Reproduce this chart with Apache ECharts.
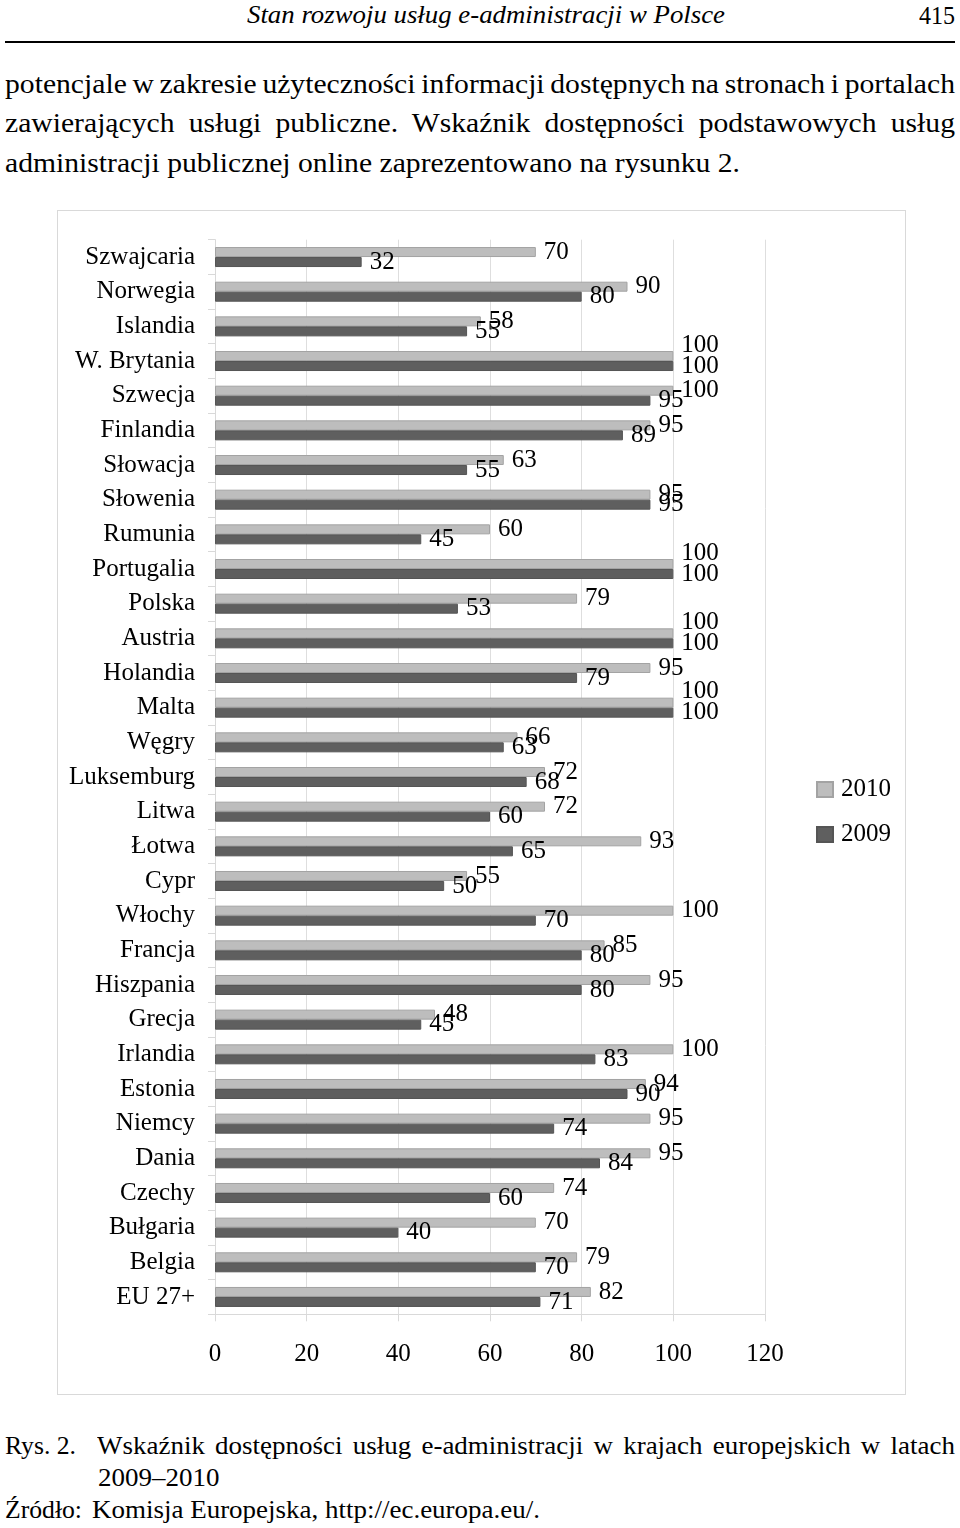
<!DOCTYPE html>
<html>
<head>
<meta charset="utf-8">
<script src="https://cdn.jsdelivr.net/npm/echarts@6/dist/echarts.min.js"></script>
<style>
  html, body { margin:0; padding:0; background:#fff; }
  body { width:960px; height:1528px; position:relative; overflow:hidden; font-family:"Liberation Serif","Times New Roman",serif; color:#000; }
  .t { position:absolute; white-space:nowrap; line-height:1; transform-origin:0 50%; }
  #frame { position:absolute; left:57px; top:210px; width:849px; height:1185px; border:1px solid #d9d9d9; box-sizing:border-box; }
  #chart { position:absolute; left:58px; top:211px; width:847px; height:1183px; }
</style>
</head>
<body>
<div class="t" data-w="478" style="left:247px;top:2px;font-style:italic;font-size:26px;">Stan rozwoju usług e-administracji w Polsce</div>
<div class="t" data-w="36" style="left:919px;top:3px;font-size:26px;">415</div>
<div style="position:absolute;left:5px;top:41px;width:950px;height:2px;background:#000;"></div>
<div class="t" data-g="p" data-j="950" style="left:5px;top:71px;font-size:27px;">potencjale w zakresie użyteczności informacji dostępnych na stronach i portalach</div>
<div class="t" data-g="p" data-j="950" style="left:5px;top:110px;font-size:27px;">zawierających usługi publiczne. Wskaźnik dostępności podstawowych usług</div>
<div class="t" data-g="p" data-ref="735" style="left:5px;top:150px;font-size:27px;">administracji publicznej online zaprezentowano na rysunku 2.</div>
<div id="frame"></div>
<div id="chart"></div>
<div class="t" data-w="71" style="left:5px;top:1433px;font-size:26px;">Rys. 2.</div>
<div class="t" data-g="c" data-j="858" style="left:97px;top:1433px;font-size:26px;">Wskaźnik dostępności usług e-administracji w krajach europejskich w latach</div>
<div class="t" data-g="c" style="left:98px;top:1465px;font-size:26px;">2009–2010</div>
<div class="t" data-w="77" style="left:5px;top:1497px;font-size:26px;">Źródło:</div>
<div class="t" data-g="c" data-ref="448" style="left:92px;top:1497px;font-size:26px;">Komisja Europejska, http://ec.europa.eu/.</div>
<script>
const categories = ['Szwajcaria','Norwegia','Islandia','W. Brytania','Szwecja','Finlandia','Słowacja','Słowenia','Rumunia','Portugalia','Polska','Austria','Holandia','Malta','Węgry','Luksemburg','Litwa','Łotwa','Cypr','Włochy','Francja','Hiszpania','Grecja','Irlandia','Estonia','Niemcy','Dania','Czechy','Bułgaria','Belgia','EU 27+'];
const values2010 = [70,90,58,100,100,95,63,95,60,100,79,100,95,100,66,72,72,93,55,100,85,95,48,100,94,95,95,74,70,79,82];
const values2009 = [32,80,55,100,95,89,55,95,45,100,53,100,79,100,63,68,60,65,50,70,80,80,45,83,90,74,84,60,40,70,71];
const seriesNames = ['2010','2009'];
const xTicks = {min:0, max:120, interval:20};

// page text: single-line widths fitted, groups share a horizontal scale, justified lines widen spaces
document.querySelectorAll('.t[data-w]').forEach(function(el){
  const natural = el.getBoundingClientRect().width;
  const target = parseFloat(el.getAttribute('data-w'));
  if (natural > 0) el.style.transform = 'scaleX(' + (target / natural) + ')';
});
['p','c'].forEach(function(g){
  const els = Array.from(document.querySelectorAll('.t[data-g="' + g + '"]'));
  const ref = els.find(function(e){ return e.hasAttribute('data-ref'); });
  const s = parseFloat(ref.getAttribute('data-ref')) / ref.getBoundingClientRect().width;
  els.forEach(function(el){
    if (el.hasAttribute('data-j')) {
      const nat = el.getBoundingClientRect().width;
      const spaces = (el.textContent.match(/ /g) || []).length;
      const ws = (parseFloat(el.getAttribute('data-j')) / s - nat) / spaces;
      el.style.wordSpacing = ws + 'px';
    }
    el.style.transform = 'scaleX(' + s + ')';
  });
});

const FONT = '"Liberation Serif","Times New Roman",serif';
const chart = echarts.init(document.getElementById('chart'), null, {renderer:'canvas'});
const labelStyle = {show:true, position:'right', distance:8, color:'#000', fontSize:25, fontFamily:FONT};
chart.setOption({
  animation:false,
  textStyle:{fontFamily:FONT},
  grid:{left:157, right:140, top:28.7, bottom:79.7, containLabel:false},
  legend:{
    orient:'vertical', left:758, top:566, padding:0, itemWidth:16, itemHeight:15, itemGap:20,
    icon:'rect',
    data:seriesNames,
    textStyle:{fontSize:25, lineHeight:25, color:'#000', fontFamily:FONT, padding:[0,0,0,3]}
  },
  xAxis:{
    type:'value', min:xTicks.min, max:xTicks.max, interval:xTicks.interval,
    axisLine:{show:true, lineStyle:{color:'#d9d9d9', width:1}},
    axisTick:{show:true, length:7, lineStyle:{color:'#d9d9d9'}},
    splitLine:{show:true, lineStyle:{color:'#dedede', width:1}},
    axisLabel:{margin:28, fontSize:25, color:'#000', fontFamily:FONT}
  },
  yAxis:{
    type:'category', inverse:true, data:categories,
    axisLine:{show:true, lineStyle:{color:'#d9d9d9', width:1}},
    axisTick:{show:true, length:7, lineStyle:{color:'#d9d9d9'}},
    axisLabel:{margin:20, fontSize:25, color:'#000', fontFamily:FONT}
  },
  series:[
    {name:seriesNames[0], type:'bar', data:values2010, barWidth:10, barGap:'0%',
     itemStyle:{color:'#bdbdbd', borderColor:'#a3a3a3', borderWidth:1},
     label:labelStyle,
     labelLayout:function(p){ const i=p.dataIndex; if(values2010[i]===100 && values2009[i]===100) return {dy:-11}; return {}; }
    },
    {name:seriesNames[1], type:'bar', data:values2009, barWidth:10, barGap:'0%',
     itemStyle:{color:'#5f5f5f', borderColor:'#555555', borderWidth:1},
     label:labelStyle
    }
  ]
});
</script>
</body>
</html>
